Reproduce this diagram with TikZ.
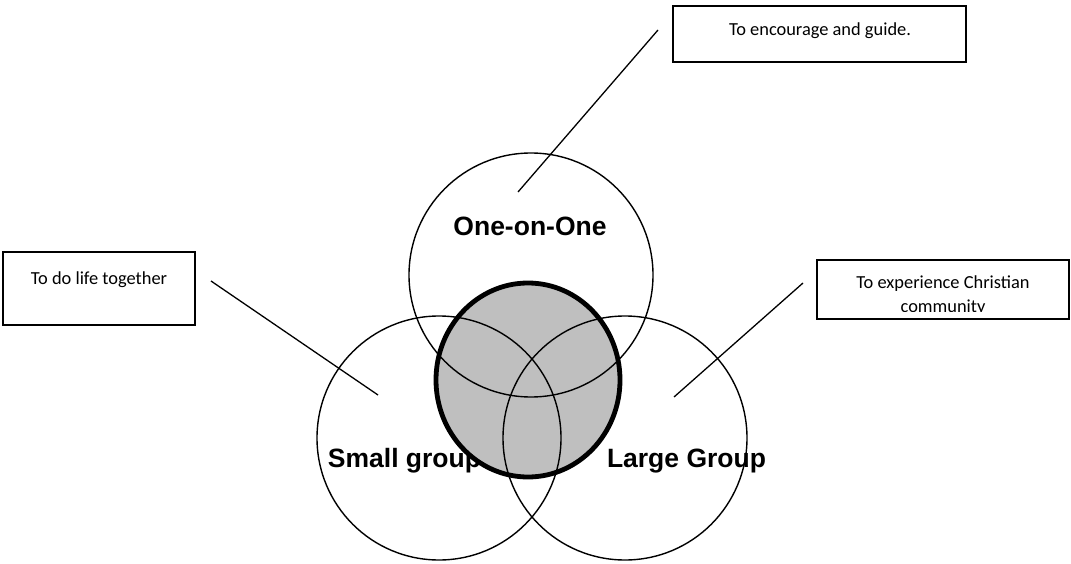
\documentclass[tikz,border=0pt]{standalone}
\usepackage{fontspec}
\usetikzlibrary{shapes.geometric}
\setmainfont{Carlito}
\newfontfamily\labelfont{Liberation Sans}
\begin{document}
\begin{tikzpicture}[x=1pt,y=-1pt,
    ring/.style={draw, circle, line width=1.4pt, minimum size=244pt, inner sep=0pt},
    core/.style={draw, ellipse, line width=4.8pt, fill=gray!50, minimum width=184pt, minimum height=194pt, inner sep=0pt},
    notebox/.style={draw, rectangle, line width=1.8pt, inner sep=0pt},
    notetext/.style={anchor=base, inner sep=0pt, align=center, font=\fontsize{18.4}{24}\selectfont},
    grouplabel/.style={anchor=base, inner sep=0pt, font=\labelfont\bfseries\fontsize{26.5}{30}\selectfont},
    pointer/.style={line width=1.3pt}]
    \useasboundingbox (0,0) rectangle (1071,564);

    % Labels (the middle circle covers part of them)
    \node[grouplabel] (onelabel) at (530,235.5) {One-on-One};
    \node[grouplabel] (smalllabel) at (404.5,467) {Small group};
    \node[grouplabel] (largelabel) at (686.5,467) {Large Group};

    % Middle circle
    \node[core] (core) at (528,380) {};

    % Three circles
    \node[ring] (one) at (531,275) {};
    \node[ring] (small) at (439,438) {};
    \node[ring] (large) at (625,438) {};

    % Text boxes
    \node[notebox, minimum width=293pt, minimum height=56pt] (guide) at (819.5,34) {};
    \node[notetext] (guidetext) at (820,36) {To encourage and guide.};

    \node[notebox, minimum width=192pt, minimum height=73pt] (life) at (99,288.5) {};
    \node[notetext] (lifetext) at (99,284) {To do life together};

    \node[notebox, minimum width=252pt, minimum height=59pt] (community) at (943,289.5) {};
    \begin{scope}
      \clip (community.north west) rectangle ([yshift=8pt]community.south east);
      \node[notetext] (communitytext) at (943,312) {To experience Christian\\community};
    \end{scope}

    % Pointers
    \coordinate (guidetip) at (658,30);
    \coordinate (onetip) at (518,192);
    \coordinate (lifetip) at (211,281);
    \coordinate (smalltip) at (378,395);
    \coordinate (communitytip) at (803,283);
    \coordinate (largetip) at (674,397);
    \draw[pointer] (onetip) -- (guidetip);
    \draw[pointer] (lifetip) -- (smalltip);
    \draw[pointer] (communitytip) -- (largetip);
\end{tikzpicture}
\end{document}
